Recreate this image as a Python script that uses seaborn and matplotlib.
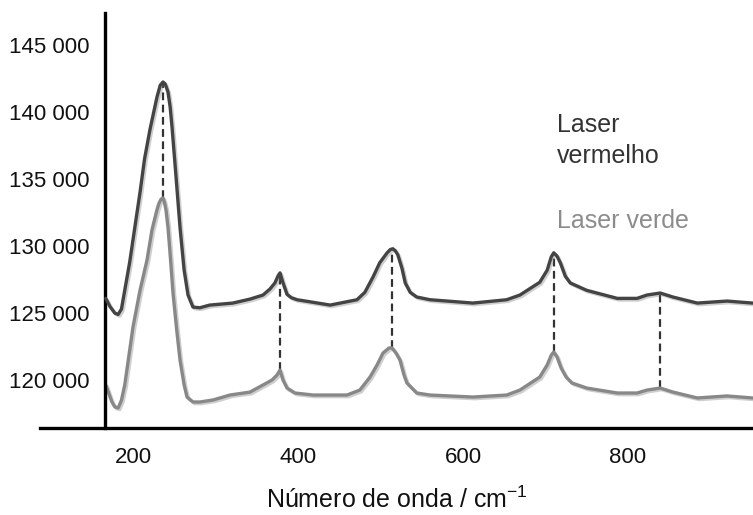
import matplotlib
matplotlib.use('Agg')
import matplotlib.pyplot as plt
import matplotlib.patheffects as pe
import seaborn as sns
import pandas as pd

# espectro com laser vermelho (curva escura)
x_verm = [167, 172, 178, 182, 186, 190, 196, 202, 208.5, 214, 220.6, 229, 233, 236.4, 239, 242.4,
          245, 247.3, 252, 257, 262, 266.7, 272.7, 281, 293, 321, 342, 357.6, 366, 372, 376,
          378.2, 381.6, 386.7, 392, 399, 439, 471.5, 481, 491, 499, 508, 512, 515, 518, 521, 526,
          530, 536, 544, 560, 612, 653, 669, 693, 702, 707, 710, 714, 718, 724, 730, 750, 787,
          811, 823, 839, 854.5, 884, 920, 951]
y_verm = [126100, 125500, 125000, 124900, 125300, 126700, 128800, 131300, 134000, 136500, 138700,
          141100, 142000, 142240, 142100, 141500, 140400, 138900, 135300, 131400, 128200, 126350,
          125450, 125400, 125600, 125750, 126050, 126350, 126800, 127250, 127800, 128000, 127300,
          126400, 126150, 126000, 125600, 126000, 126550, 127700, 128750, 129500, 129750, 129800,
          129650, 129350, 128350, 127250, 126550, 126200, 126000, 125750, 126000, 126350, 127300,
          128200, 129200, 129500, 129250, 128750, 127750, 127250, 126700, 126100, 126100, 126350,
          126500, 126200, 125750, 125900, 125750]

# espectro com laser verde (curva clara)
x_verde = [167, 174.5, 178, 182, 186, 190, 200, 208.5, 217, 223, 229, 231.5, 234, 236.4, 238, 240,
           242.4, 244, 246, 248.5, 253, 257, 262, 265.5, 272.7, 281, 297, 317.6, 341.8, 357.6,
           368.5, 374.5, 378.2, 381.8, 386.7, 396.4, 418.2, 459.4, 475, 487.3, 495.8, 503, 510.3,
           514, 518.8, 523.6, 528.5, 532, 544, 560, 612, 653, 669, 693, 702, 707, 710, 714, 719,
           725, 732, 750, 787, 811, 823, 839, 854.5, 884, 920, 951]
y_verde = [119640, 118370, 118000, 117920, 118500, 119640, 123960, 126700, 128960, 131200, 132700,
           133200, 133500, 133590, 133300, 132700, 131400, 130200, 128600, 126500, 123740, 121500,
           119640, 118740, 118370, 118370, 118520, 118890, 119110, 119640, 120010, 120380, 120750,
           120010, 119410, 119040, 118890, 118890, 119260, 120230, 121130, 122020, 122400, 122400,
           122020, 121500, 120380, 119790, 119040, 118890, 118740, 118890, 119260, 120230, 121130,
           121870, 122100, 121730, 120900, 120230, 119790, 119410, 119040, 119040, 119260, 119410,
           119110, 118670, 118820, 118670]

# picos ligados pelas linhas tracejadas
picos_x = [236.4, 378.2, 514.5, 710, 839]
picos_verm = [142240, 128000, 129800, 129500, 126500]
picos_verde = [133590, 120750, 122400, 122100, 119410]

xticks = [200, 400, 600, 800]
yticks = [120000, 125000, 130000, 135000, 140000, 145000]
ytick_labels = ['120 000', '125 000', '130 000', '135 000', '140 000', '145 000']

sns.set_style('white')
plt.rcParams['font.family'] = ['Liberation Sans', 'DejaVu Sans']
plt.rcParams['mathtext.fontset'] = 'custom'
plt.rcParams['mathtext.rm'] = 'Liberation Sans'

df_verm = pd.DataFrame({'x': x_verm, 'y': y_verm})
df_verde = pd.DataFrame({'x': x_verde, 'y': y_verde})

fig = plt.figure(figsize=(7.53, 5.15), dpi=100)
ax = fig.add_axes([40 / 753, 87 / 515, 713 / 753, 415 / 515])

sombra = [pe.SimpleLineShadow(offset=(1.2, -1.2), shadow_color='#777777', alpha=0.35),
          pe.Normal()]

ax.vlines(picos_x, picos_verde, picos_verm, colors='#333333', linewidth=1.6,
          linestyles=(0, (3.5, 2)), zorder=1)
sns.lineplot(data=df_verde, x='x', y='y', ax=ax, color='#888888', linewidth=2.4,
             sort=False, estimator=None, path_effects=sombra, zorder=2,
             solid_joinstyle='round', solid_capstyle='round')
sns.lineplot(data=df_verm, x='x', y='y', ax=ax, color='#444444', linewidth=2.4,
             sort=False, estimator=None, path_effects=sombra, zorder=3,
             solid_joinstyle='round', solid_capstyle='round')

ax.set_xlim(87.3, 951.5)
ax.set_ylim(116430, 147390)

ax.spines['top'].set_visible(False)
ax.spines['right'].set_visible(False)
ax.spines['left'].set_position(('data', 166.3))
ax.spines['left'].set_linewidth(2.4)
ax.spines['bottom'].set_linewidth(2.4)
ax.spines['left'].set_color('black')
ax.spines['bottom'].set_color('black')

ax.set_xticks(xticks)
ax.set_yticks(yticks)
ax.set_yticklabels(ytick_labels)
ax.tick_params(axis='both', length=0, labelsize=16, colors='#111111')
ax.tick_params(axis='y', pad=11)
ax.tick_params(axis='x', pad=14)

ax.set_xlabel('Número de onda / cm$^{-1}$', fontsize=18, labelpad=13, color='#111111')
ax.set_ylabel('')

ax.text(0.725, 0.713, 'Laser', transform=ax.transAxes, fontsize=18, color='#333333', va='baseline')
ax.text(0.725, 0.639, 'vermelho', transform=ax.transAxes, fontsize=18, color='#333333', va='baseline')
ax.text(0.725, 0.482, 'Laser verde', transform=ax.transAxes, fontsize=18, color='#8c8c8c', va='baseline')

plt.savefig('out.png', dpi=100)
plt.close()
